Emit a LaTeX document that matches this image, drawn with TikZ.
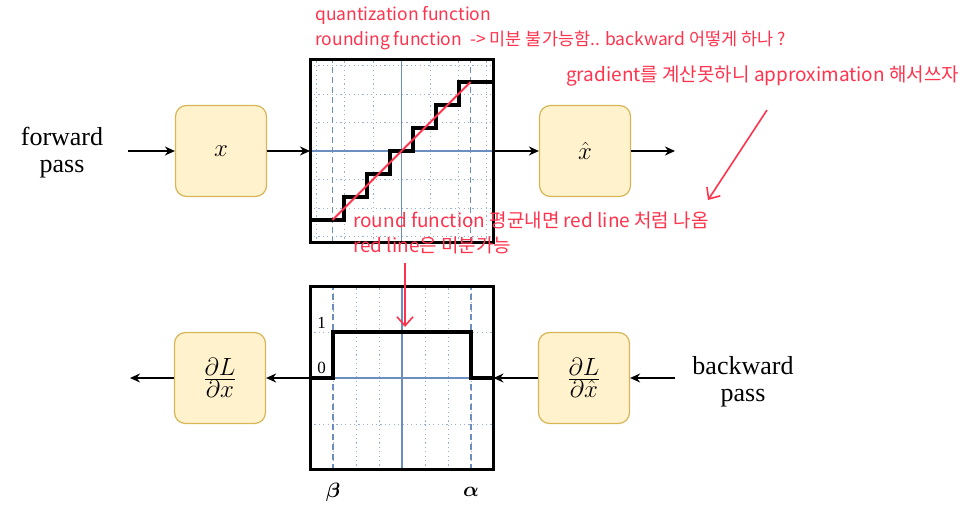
\documentclass[tikz,border=0pt]{standalone}
\usepackage{amsmath}
\usepackage{fontspec}
\setmainfont{Liberation Serif}
\newfontfamily\kor{Noto Sans CJK KR}
\usetikzlibrary{arrows.meta}

\definecolor{boxfill}{HTML}{FFF2CC}
\definecolor{boxline}{HTML}{D6B656}
\definecolor{gridblue}{HTML}{6C8EBF}
\definecolor{notered}{RGB}{255,51,77}

\tikzset{
  block/.style={draw=boxline, fill=boxfill, line width=1.2pt, rounded corners=11pt,
    minimum width=91pt, minimum height=91pt, inner sep=0pt, font=\fontsize{34}{40}\selectfont},
  plotframe/.style={draw, line width=3pt, minimum width=183pt, minimum height=183pt,
    inner sep=0pt, outer sep=0pt},
  flow/.style={line width=1.8pt, -{Stealth[length=10pt,width=9pt]}},
  passlabel/.style={align=center, font=\fontsize{26}{27}\selectfont},
  ticklabel/.style={font=\fontsize{17}{20}\selectfont, inner sep=0pt},
  axislabel/.style={font=\fontsize{22}{26}\selectfont, inner sep=0pt},
  note/.style={text=notered, align=left, inner sep=0pt, font=\kor\fontsize{19}{25}\selectfont},
  notearrow/.style={draw=notered, line width=1.6pt, -{Straight Barb[length=9pt,width=16pt]}},
  griddot/.style={gridblue!70, line width=0.8pt, dash pattern=on 1.2pt off 3.2pt},
  gridaxis/.style={gridblue, line width=1.2pt},
  griddash/.style={gridblue, line width=1.8pt, dash pattern=on 6pt off 4pt},
  steps/.style={line width=3.2pt},
}

\begin{document}
\begin{tikzpicture}[x=1pt,y=1pt]
\useasboundingbox (0,0) rectangle (971,-510);

% forward pass
\node[passlabel] (fwdlabel) at (62,-153) {forward\\pass};
\coordinate (fwdin) at (128,-151);
\node[block] (xin) at (221,-151) {$x$};
\node[block] (xhat) at (585,-151) {$\hat{x}$};
\coordinate (fwdout) at (675,-151);

% quantizer
\coordinate (qc) at (401.5,-151);
\begin{scope}[shift={(qc)},x=23pt,y=23pt]
\draw[griddot] (-4,-4) grid (4,4);
\draw[gridaxis] (-4,0) -- (4,0) (0,-4) -- (0,4);
\draw[griddash] (-3,-4) -- (-3,4) (3,-4) -- (3,4);
\draw[steps] (-4,-3) -- (-2.5,-3) -- (-2.5,-2) -- (-1.5,-2) -- (-1.5,-1) -- (-0.5,-1)
  -- (-0.5,0) -- (0.5,0) -- (0.5,1) -- (1.5,1) -- (1.5,2) -- (2.5,2) -- (2.5,3) -- (4,3);
\draw[notered, line width=1.8pt] (-3,-3) -- (3,3);
\end{scope}
\node[plotframe] (quant) at (qc) {};

\draw[flow] (fwdin) -- (xin);
\draw[flow] (xin) -- (quant);
\draw[flow] (quant) -- (xhat);
\draw[flow] (xhat) -- (fwdout);

% backward pass
\node[passlabel] (bwdlabel) at (743,-382) {backward\\pass};
\coordinate (bwdin) at (675,-378);
\node[block] (dxhat) at (584,-378) {$\frac{\partial L}{\partial \hat{x}}$};
\node[block] (dx) at (220,-378) {$\frac{\partial L}{\partial x}$};
\coordinate (bwdout) at (130,-378);

% straight-through gradient
\coordinate (gc) at (402,-378);
\begin{scope}[shift={(gc)},x=23pt,y=23pt]
\draw[griddot,xstep=1,ystep=2] (-4,-4) grid (4,4);
\draw[gridaxis] (-4,0) -- (4,0) (0,-4) -- (0,4);
\draw[griddash] (-3,-4) -- (-3,4) (3,-4) -- (3,4);
\draw[steps] (-4,0) -- (-3,0) -- (-3,2) -- (3,2) -- (3,0) -- (4,0);
\node[ticklabel] (lone) at (-3.5,2.4) {1};
\node[ticklabel] (lzero) at (-3.5,0.45) {0};
\node[axislabel] (lbeta) at (-3,-4.96) {$\boldsymbol{\beta}$};
\node[axislabel] (lalpha) at (3,-4.96) {$\boldsymbol{\alpha}$};
\end{scope}
\node[plotframe] (grad) at (gc) {};

\draw[flow] (bwdin) -- (dxhat);
\draw[flow] (dxhat) -- (grad);
\draw[flow] (grad) -- (dx);
\draw[flow] (dx) -- (bwdout);

% notes
\node[note, anchor=base west, font=\kor\fontsize{17.5}{25}\selectfont] (quantnote) at (315,-46)
  {quantization function\\rounding function\ \ -> 미분 불가능함.. backward 어떻게 하나 ?};
\node[note, anchor=base west] (gradnote) at (566,-82)
  {gradient를 계산못하니 approximation 해서쓰자};
\node[note, anchor=base west] (roundnote) at (353,-253)
  {round function 평균내면 red line 처럼 나옴\\red line은 미분가능};
\coordinate (gradtail) at (767,-110);
\coordinate (gradtip) at (708,-200);
\draw[notearrow] (gradtail) -- (gradtip);
\coordinate (roundtail) at (405,-263);
\coordinate (roundtip) at (405,-327);
\draw[notearrow] (roundtail) -- (roundtip);
\end{tikzpicture}
\end{document}
